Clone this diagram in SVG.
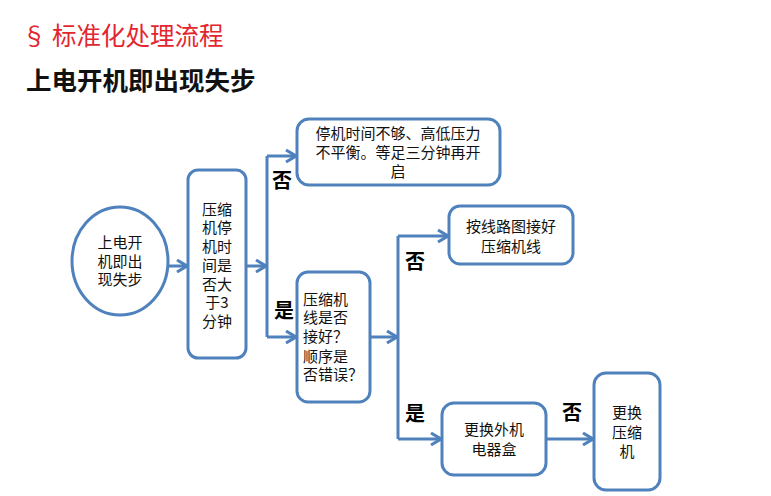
<svg xmlns="http://www.w3.org/2000/svg" width="771" height="496" viewBox="0 0 771 496">
<style>
.n{fill:#fff;stroke:#4F81BD;stroke-width:3}
.c{fill:none;stroke:#4F81BD;stroke-width:3}
.t{font-family:"Noto Sans CJK SC","Liberation Sans",sans-serif;font-size:15px;fill:#111}
.m{text-anchor:middle}
.b{font-family:"Noto Sans CJK SC","Liberation Sans",sans-serif;font-size:20px;font-weight:bold;fill:#000;text-anchor:middle}
</style>
<defs>
<marker id="a" viewBox="0 0 12 14" refX="11" refY="7" markerWidth="12" markerHeight="14" markerUnits="userSpaceOnUse" orient="auto">
<path d="M1,1 L11,7 L1,13" fill="none" stroke="#4F81BD" stroke-width="3"/>
</marker>
</defs>
<rect width="771" height="496" fill="#fff"/>
<text x="22" y="45" font-family="Noto Sans CJK SC,Liberation Sans,sans-serif" font-size="24.5" fill="#E3262E">§ 标准化处理流程</text>
<text x="26" y="90" font-family="Noto Sans CJK SC,Liberation Sans,sans-serif" font-size="25.5" font-weight="bold" fill="#111">上电开机即出现失步</text>
<g id="connectors">
<path class="c" d="M168,266 H187" marker-end="url(#a)"/>
<path class="c" d="M246,266 H266" marker-end="url(#a)"/>
<path class="c" d="M267,156 V337"/>
<path class="c" d="M267,156 H296" marker-end="url(#a)"/>
<path class="c" d="M267,337 H296" marker-end="url(#a)"/>
<path class="c" d="M370,337 H397" marker-end="url(#a)"/>
<path class="c" d="M398,236 V439"/>
<path class="c" d="M398,236 H448" marker-end="url(#a)"/>
<path class="c" d="M398,439 H441" marker-end="url(#a)"/>
<path class="c" d="M546,439 H593" marker-end="url(#a)"/>
<text class="b" x="282" y="188">否</text>
<text class="b" x="284" y="318">是</text>
<text class="b" x="415" y="269">否</text>
<text class="b" x="415" y="421">是</text>
<text class="b" x="572" y="420">否</text>
</g>
<g id="start">
<ellipse class="n" cx="120" cy="261" rx="48" ry="54"/>
<text class="t m"><tspan x="120" y="248">上电开</tspan><tspan x="120" y="267">机即出</tspan><tspan x="120" y="285">现失步</tspan></text>
</g>
<g id="check-time">
<rect class="n" x="188" y="170" width="58" height="188" rx="10"/>
<text class="t m"><tspan x="217" y="215">压缩</tspan><tspan x="217" y="233">机停</tspan><tspan x="217" y="252">机时</tspan><tspan x="217" y="271">间是</tspan><tspan x="217" y="290">否大</tspan><tspan x="217" y="308">于3</tspan><tspan x="217" y="327">分钟</tspan></text>
</g>
<g id="wait">
<rect class="n" x="297" y="119" width="203" height="66" rx="12"/>
<text class="t m"><tspan x="398" y="139">停机时间不够、高低压力</tspan><tspan x="398" y="158">不平衡。等足三分钟再开</tspan><tspan x="398" y="177">启</tspan></text>
</g>
<g id="check-wiring">
<rect class="n" x="297" y="272" width="73" height="130" rx="11"/>
<text class="t"><tspan x="303" y="305">压缩机</tspan><tspan x="303" y="323">线是否</tspan><tspan x="303" y="342">接好？</tspan><tspan x="303" y="362">顺序是</tspan><tspan x="303" y="380">否错误？</tspan></text>
</g>
<g id="rewire">
<rect class="n" x="449" y="206" width="124" height="58" rx="11"/>
<text class="t m"><tspan x="511" y="232">按线路图接好</tspan><tspan x="511" y="252">压缩机线</tspan></text>
</g>
<g id="replace-box">
<rect class="n" x="442" y="403" width="104" height="72" rx="12"/>
<text class="t m"><tspan x="494" y="435">更换外机</tspan><tspan x="494" y="455">电器盒</tspan></text>
</g>
<g id="replace-compressor">
<rect class="n" x="594" y="373" width="66" height="117" rx="12"/>
<text class="t m"><tspan x="627" y="418">更换</tspan><tspan x="627" y="438">压缩</tspan><tspan x="627" y="457">机</tspan></text>
</g>
</svg>
